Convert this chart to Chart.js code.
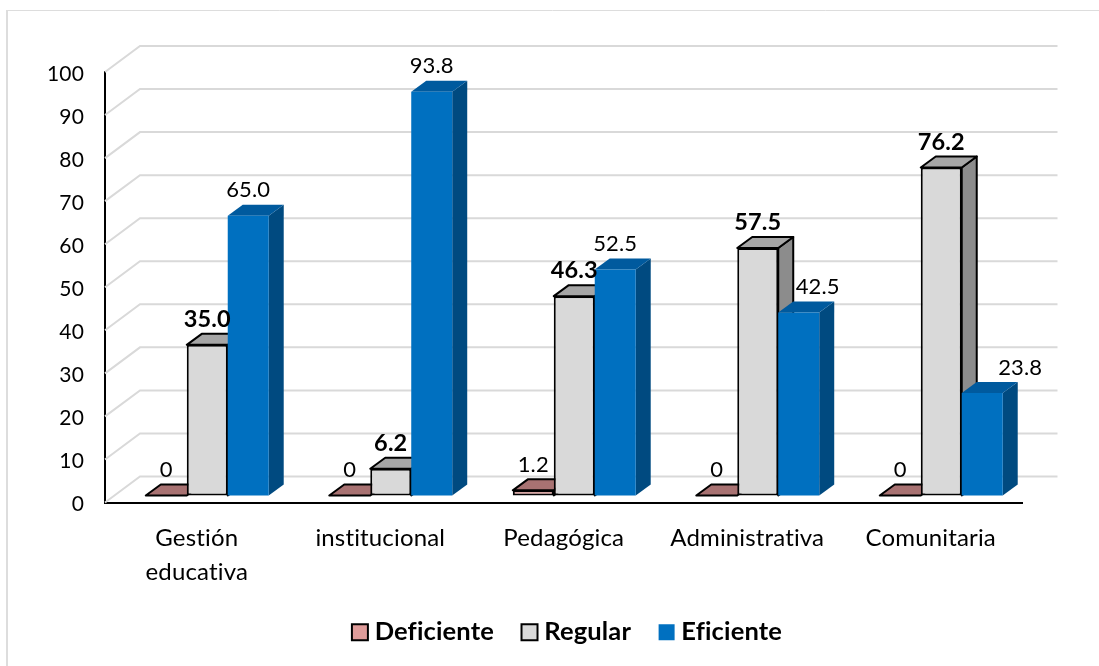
<!DOCTYPE html>
<html><head><meta charset="utf-8">
<style>html,body{margin:0;padding:0;background:#fff}#w{position:relative;width:1099px;height:666px}
canvas{display:block}</style>
<script src="https://cdn.jsdelivr.net/npm/chart.js@4"></script></head>
<body><div id="w"><canvas id="c" width="1099" height="666"></canvas></div>
<script>
const categories = [["Gestión","educativa"],"institucional","Pedagógica","Administrativa","Comunitaria"];
const deficiente = [0,0,1.2,0,0];
const regular = [35.0,6.2,46.3,57.5,76.2];
const eficiente = [65.0,93.8,52.5,42.5,23.8];
const deficienteLabels = ["0","0","1.2","0","0"];
const regularLabels = ["35.0","6.2","46.3","57.5","76.2"];
const eficienteLabels = ["65.0","93.8","52.5","42.5","23.8"];
const eficienteLabelShift = [0,0,0,19,38];
const yTicks = [0,10,20,30,40,50,60,70,80,90,100];
const FONT = "Lato, 'Open Sans', sans-serif";
const WALL = {dx:35, dy:-26};
const PLANE = {dx:10.5, dy:-7};
const DEPTH = {dx:15, dy:-11};

const faces = [
 {top:"#A87272", side:"#8F5F5F", stroke:"#000", bold:false, texts:deficienteLabels},
 {top:"#A6A6A6", side:"#8C8C8C", stroke:"#000", bold:true, texts:regularLabels},
 {top:"#005A9E", side:"#004A80", stroke:null, bold:false, texts:eficienteLabels, shift:eficienteLabelShift}
];
function poly(ctx,pts,fill,stroke){
  ctx.beginPath();pts.forEach((p,i)=>i?ctx.lineTo(p[0],p[1]):ctx.moveTo(p[0],p[1]));ctx.closePath();
  ctx.fillStyle=fill;ctx.fill();
  if(stroke){ctx.strokeStyle=stroke;ctx.lineWidth=2;ctx.lineJoin="round";ctx.stroke();}
}
const bars3d = {
  id:"bars3d",
  beforeDatasetsDraw(chart){
    const ctx=chart.ctx, y=chart.scales.y, a=chart.chartArea;
    ctx.save();ctx.strokeStyle="#D9D9D9";ctx.lineWidth=2;
    y.ticks.forEach(t=>{
      const py=y.getPixelForValue(t.value);
      ctx.beginPath();ctx.moveTo(a.left,py);ctx.lineTo(a.left+WALL.dx,py+WALL.dy);ctx.lineTo(a.right+WALL.dx,py+WALL.dy);ctx.stroke();
    });
    ctx.restore();
    ctx.save();ctx.translate(PLANE.dx,PLANE.dy);
    chart.data.datasets.forEach((ds,i)=>{
      const meta=chart.getDatasetMeta(i), f=faces[i];
      meta.data.forEach(el=>{
        const l=el.x-el.width/2, r=el.x+el.width/2, t=el.y, b=el.base;
        if(b-t>0.01) poly(ctx,[[r,t],[r+DEPTH.dx,t+DEPTH.dy],[r+DEPTH.dx,b+DEPTH.dy],[r,b]],f.side,f.stroke);
        poly(ctx,[[l,t],[l+DEPTH.dx,t+DEPTH.dy],[r+DEPTH.dx,t+DEPTH.dy],[r,t]],f.top,f.stroke);
      });
      meta.controller.draw();
    });
    ctx.restore();
  },
  beforeDatasetDraw(){return false;},
  afterDatasetsDraw(chart){
    const ctx=chart.ctx;
    ctx.save();ctx.textAlign="center";ctx.textBaseline="middle";ctx.fillStyle="#000";
    chart.data.datasets.forEach((ds,i)=>{
      const f=faces[i];
      chart.getDatasetMeta(i).data.forEach((el,k)=>{
        ctx.font=(f.bold?"bold 23.5px ":"22px ")+FONT;
        ctx.fillText(f.texts[k],el.x+PLANE.dx+(f.shift?f.shift[k]:0),el.y+PLANE.dy+DEPTH.dy-14.5);
      });
    });
    ctx.restore();
  }
};
const frame = {id:"frame",
 afterLayout(chart){const L=chart.legend;L.left+=56.5;L.right+=56.5;},
 beforeDraw(chart){
  const c=chart.ctx;
  c.letterSpacing="0.15px";
  chart.scales.y.getLabelItems(chart.chartArea).forEach(it=>{if(!it.shifted){it.options.translation[1]+=2;it.shifted=true;}});
  c.save();c.strokeStyle="#DDDDDD";
  c.lineWidth=2;c.beginPath();c.moveTo(7,10);c.lineTo(7,666);c.stroke();
  c.lineWidth=1;c.beginPath();c.moveTo(6,10.5);c.lineTo(1099,10.5);c.stroke();
  c.restore();
}};
new Chart(document.getElementById("c"),{
  type:"bar",
  data:{labels:categories,datasets:[
    {label:"Deficiente",data:deficiente,backgroundColor:"#DF9C9A",borderColor:"#000",borderWidth:2,borderSkipped:false,inflateAmount:0},
    {label:"Regular",data:regular,backgroundColor:"#D9D9D9",borderColor:"#000",borderWidth:2,borderSkipped:false,inflateAmount:0},
    {label:"Eficiente",data:eficiente,backgroundColor:"#0070C0",borderWidth:0,inflateAmount:0}
  ]},
  plugins:[frame,bars3d],
  options:{
    responsive:false,animation:false,
    layout:{padding:{top:72,right:76.5,left:0,bottom:11}},
    datasets:{bar:{categoryPercentage:0.67,barPercentage:1,clip:false}},
    scales:{
      x:{grid:{display:false,drawTicks:false},border:{color:"#000",width:2},
        afterFit(s){s.height=83.5;},
        ticks:{color:"#000",autoSkip:false,maxRotation:0,minRotation:0,padding:19,font:{family:FONT,size:24,lineHeight:1.4}}},
      y:{min:0,max:100,grid:{display:false,drawTicks:false},border:{color:"#000",width:2},
        afterFit(s){s.width=105;},
        afterBuildTicks(s){s.ticks=yTicks.map(v=>({value:v}));},
        ticks:{color:"#000",padding:21,font:{family:FONT,size:21}}}
    },
    plugins:{
      tooltip:{enabled:false},
      legend:{position:"bottom",labels:{
        usePointStyle:true,boxWidth:4,boxHeight:16,padding:33.5,color:"#000",
        font:{family:FONT,size:25.5,weight:"bold"},
        generateLabels(chart){return chart.data.datasets.map((d,i)=>({
          text:d.label,fillStyle:d.backgroundColor,strokeStyle:d.borderColor||d.backgroundColor,
          lineWidth:d.borderWidth,pointStyle:"rect",datasetIndex:i,fontColor:"#000"}));}
      }}
    }
  }
});
</script></body></html>
